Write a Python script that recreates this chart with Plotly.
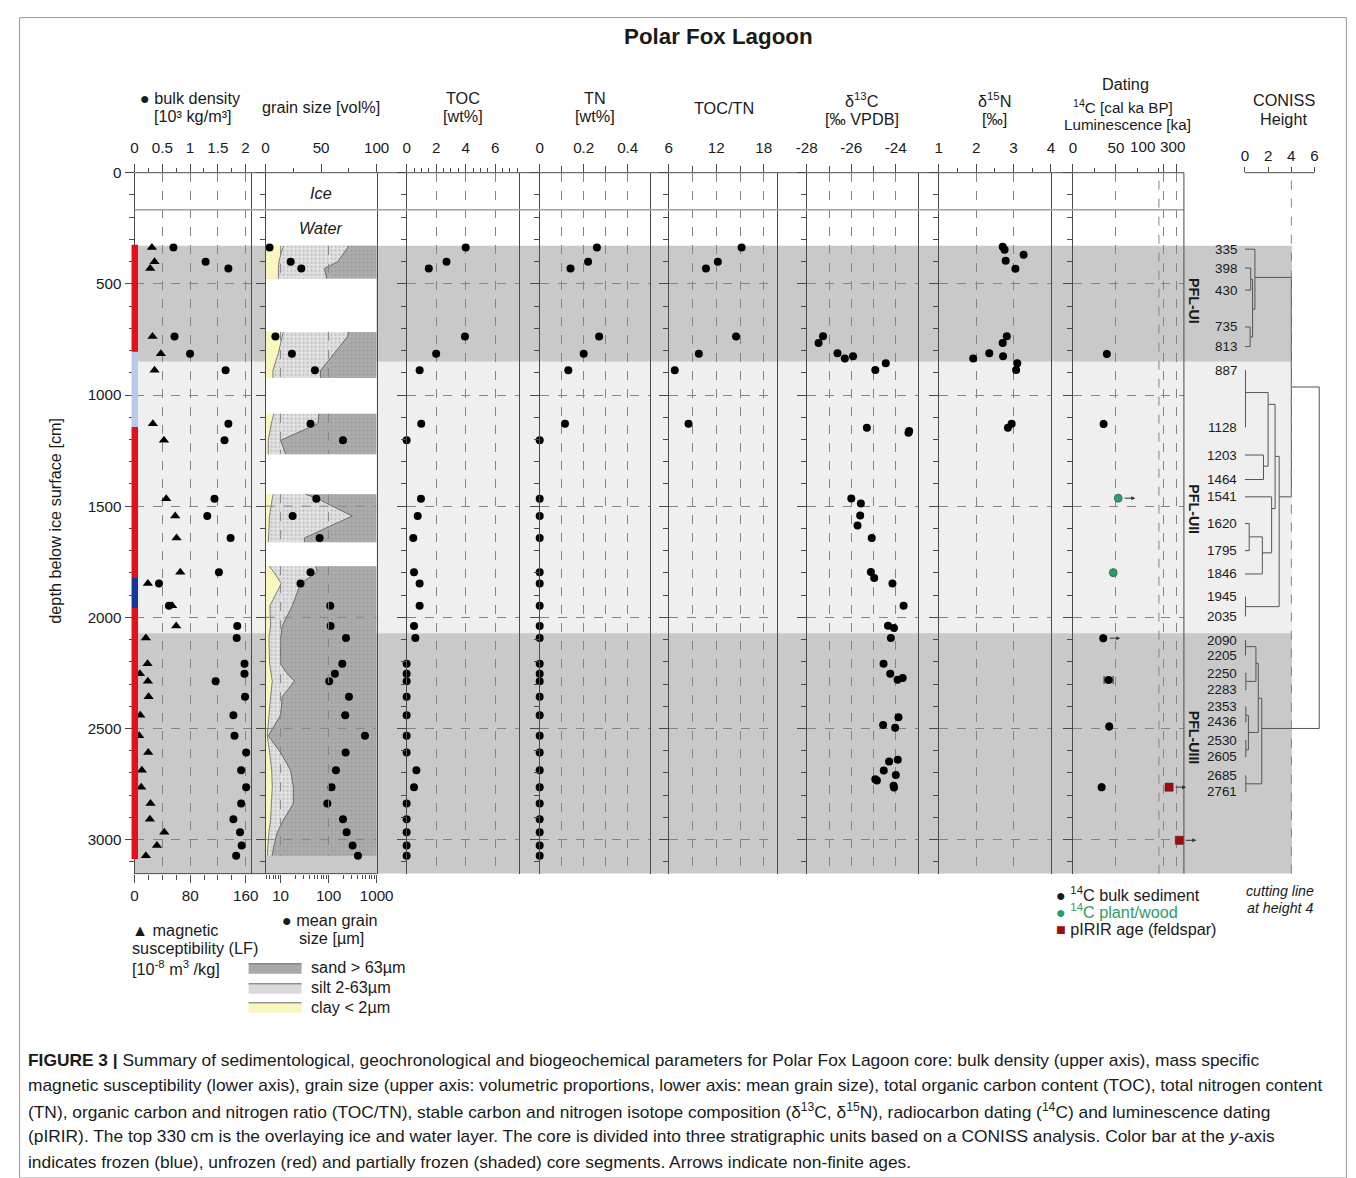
import plotly.graph_objects as go

# Mapping from reference-picture pixels to figure pixels (compensates the offset/scale
# observed between the written figure and its photograph).
OX, OY, SX, SY = 18.5, 16.5, 0.979, 0.991
W, H = 1356, 1172
def fx(p): return (p - OX) / SX / W
def fy(p): return 1 - (p - OY) / SY / H
FS = 1.015  # font compensation

FONT = "Liberation Sans, Arial, Helvetica, sans-serif"
INK = "#1a1a1a"
AX = "#4a4a4a"
GRID = "#858585"

# ---------------- data ----------------
depth = [336, 400, 431, 737, 814, 889, 1129, 1204, 1467, 1544, 1643, 1797, 1848, 1948, 2039,
         2093, 2209, 2254, 2287, 2357, 2440, 2533, 2608, 2688, 2764, 2837, 2908, 2967, 3026, 3072]
bulk_density = [0.70, 1.28, 1.69, 0.72, 1.00, 1.64, 1.69, 1.62, 1.44, 1.31, 1.73, 1.52, 0.44, 0.62, 1.85,
                1.84, 1.98, 1.98, 1.46, 1.99, 1.78, 1.80, 2.01, 1.92, 2.01, 1.92, 1.78, 1.90, 1.93, 1.83]
mag_sus = [25, 28.8, 22.6, 25.9, 37.9, 28.8, 26.4, 42.3, 45.6, 58.5, 60.5, 65.8, 19.2, 54.2, 60,
           16.3, 18.7, 7.7, 19.2, 20.2, 8.2, 6.7, 19.7, 10.5, 9.6, 23, 22.1, 42.8, 32.2, 16.3]
mean_grain = [5.9, 16.2, 27, 7.8, 17.2, 51.9, 42, 199, 55.4, 17.8, 65, 42, 26, 108, 110,
              230, 193, 135, 103, 265, 222, 571, 226, 142, 115, 94, 199, 237, 316, 408]
toc = [4.0, 2.7, 1.5, 3.95, 2.0, 0.88, 0.99, 0.0, 0.97, 0.75, 0.45, 0.5, 0.88, 0.88, 0.5,
       0.59, 0, 0, 0, 0, 0, 0, 0, 0.66, 0.5, 0, 0, 0, 0, 0]
tn = [0.26, 0.22, 0.14, 0.27, 0.20, 0.13, 0.115, 0, 0, 0, 0, 0, 0, 0, 0,
      0, 0, 0, 0, 0, 0, 0, 0, 0, 0, 0, 0, 0, 0, 0]
toc_tn = [15.2, 12.2, 10.7, 14.5, 9.8, 6.76, 8.5] + [None] * 23

d13c_depth = [736, 766, 812, 836, 826, 857, 887, 1147, 1162, 1170, 1465, 1488, 1542, 1587, 1643,
              1796, 1823, 1848, 1948, 2038, 2048, 2093, 2209, 2254, 2281, 2273, 2449, 2484, 2497,
              2641, 2649, 2689, 2709, 2728, 2734, 2758, 2765]
d13c = [-27.27, -27.47, -26.62, -26.29, -25.92, -24.45, -24.92, -25.3, -23.40, -23.43, -26.0, -25.57,
        -25.6, -25.72, -25.08, -25.12, -24.97, -24.15, -23.65, -24.35, -24.08, -24.22, -24.55, -24.25,
        -23.92, -23.69, -23.88, -24.57, -24.03, -23.91, -24.30, -24.54, -24.0, -24.92, -24.85, -24.10, -24.08]
d15n_depth = [333, 347, 369, 396, 432, 736, 766, 812, 826, 836, 857, 887, 1129, 1147]
d15n = [2.71, 2.76, 3.27, 2.79, 3.05, 2.82, 2.71, 2.35, 2.72, 1.92, 3.10, 3.07, 2.95, 2.85]

# grain size composition (vol%), segments separated by None
gs_depth = [329, 336, 400, 431, 476, None,
            716, 736, 814, 889, 923, None,
            1084, 1129, 1204, 1266, None,
            1446, 1467, 1544, 1643, 1662, None,
            1770, 1797, 1848, 1948, 2039, 2093, 2209, 2254, 2287, 2357, 2440, 2533, 2608, 2688,
            2764, 2837, 2908, 2967, 3026, 3072]
gs_clay = [15.8, 15.5, 12, 11.5, 11.5, None,
           15.9, 15, 11.4, 6.6, 6.6, None,
           7.5, 5.1, 2.4, 2.4, None,
           6.9, 6, 3.5, 2.5, 2.5, None,
           3.3, 7.5, 14.1, 3.9, 4.5, 3, 3.6, 5.1, 6, 4.5, 3.3, 1.5, 3.6, 5.5,
           6, 5.5, 4.5, 3, 2, 1.5]
gs_silt = [58.7, 58.5, 53, 41.5, 43.5, None,
           58.6, 59, 50.2, 42.9, 42.9, None,
           40.5, 41.9, 11.1, 15.6, None,
           29.1, 41, 74.5, 32.5, 32.5, None,
           41.7, 39, 17.4, 20.1, 10.5, 10.5, 9.9, 14.4, 20, 10.5, 10.2, 0.9, 9.9, 17,
           19, 19.5, 12, 7.5, 5.5, 4.5]

# dating
c14_bulk_depth = [815, 1130, 2094, 2282, 2491, 2764]
c14_bulk_age = [39.5, 35.7, 35.3, 41.5, 42.2, 33.4]
c14_bulk_err = [0.8, 1.0, 0.5, 5.2, 1.0, 1.0]
c14_bulk_finite = [True, True, False, True, True, True]
c14_plant_depth = [1464, 1799]
c14_plant_age = [52.7, 46.9]
c14_plant_err = [0.5, 0.8]
c14_plant_finite = [False, True]
pirir_depth = [2764, 3003]
pirir_age = [272, 312]
pirir_finite = [False, False]

# stratigraphic units & core state
unit_names = ["PFL-UI", "PFL-UII", "PFL-UIII"]
unit_top = [329, 850, 2072]
unit_bottom = [850, 2072, 3153]
unit_color = ["#c9c9c9", "#efefef", "#c9c9c9"]
unit_label_depth = [577, 1514, 2541]
ice_water_boundary = 167
state_top = [324, 806, 1144, 1823, 1958]
state_bottom = [806, 1144, 1823, 1958, 3087]
state_kind = ["unfrozen", "partial", "unfrozen", "frozen", "unfrozen"]
state_color = {"unfrozen": "#e3101c", "partial": "#b9c9ee", "frozen": "#14369a"}

# CONISS dendrogram (leaf / node positions in depth-axis units, heights in CONISS units)
leaf_label = ["335", "398", "430", "735", "813", "887", "1128", "1203", "1464", "1541", "1620", "1795",
              "1846", "1945", "2035", "2090", "2205", "2250", "2283", "2353", "2436", "2530", "2605",
              "2685", "2761"]
leaf_pos = [344, 429, 528, 694, 782, 889, 1144, 1270, 1380, 1458, 1578, 1700, 1805, 1908, 1995,
            2104, 2170, 2252, 2326, 2403, 2470, 2554, 2626, 2713, 2784]
merge_left = [1, 3, 25, 0, 5, 7, 29, 10, 32, 9, 31, 13, 35, 15, 17, 38, 19, 21, 41, 40, 23, 44, 28, 47]
merge_right = [2, 4, 26, 27, 6, 8, 30, 11, 12, 33, 34, 14, 36, 16, 18, 39, 20, 22, 42, 43, 24, 45, 37, 46]
merge_height = [0.5, 0.45, 0.66, 0.86, 0.05, 1.6, 2.0, 0.37, 1.5, 2.3, 2.6, 0.05, 2.95, 0.05, 0.08,
                0.95, 0.08, 0.08, 0.3, 1.15, 0.08, 1.45, 4.0, 6.4]
merge_pos = [480, 739, 614, 471, 989, 1320, 1042, 1638, 1710, 1511, 1276, 1952, 1458, 2132, 2288,
             2207, 2441, 2596, 2518, 2364, 2749, 2500, 964, 1732]
cutting_height = 4

# ---------------- figure ----------------
fig = go.Figure()
Y0, Y1 = 172, 872
ydom = [fy(Y1), fy(Y0)]
DR = [3153, 0]

segs = []
cur = []
for d, c, s in zip(gs_depth, gs_clay, gs_silt):
    if d is None:
        segs.append(cur); cur = []
    else:
        cur.append((d, c, s))
segs.append(cur)
for seg in segs:
    dd = [r[0] for r in seg]
    clay = [r[1] for r in seg]
    cs = [r[1] + r[2] for r in seg]
    full = [r[1] + r[2] + (100 - r[1] - r[2]) for r in seg]
    fig.add_trace(go.Scatter(x=clay, y=dd, mode="lines", fill="tozerox", fillcolor="#fbf5bf",
                             line=dict(color="#666", width=0.8), xaxis="x2", yaxis="y2",
                             hoverinfo="skip", showlegend=False))
    fig.add_trace(go.Scatter(x=cs, y=dd, mode="lines", fill="tonextx", fillcolor="#dadada",
                             line=dict(color="#555", width=0.8), xaxis="x2", yaxis="y2",
                             hoverinfo="skip", showlegend=False,
                             fillpattern=dict(shape=".", size=4, solidity=0.25, fgcolor="#9a9a9a", bgcolor="#e2e2e2")))
    fig.add_trace(go.Scatter(x=full, y=dd, mode="lines", fill="tonextx", fillcolor="#a9a9a9",
                             line=dict(color="rgba(0,0,0,0)", width=0), xaxis="x2", yaxis="y2",
                             hoverinfo="skip", showlegend=False,
                             fillpattern=dict(shape=".", size=4, solidity=0.25, fgcolor="#8a8a8a", bgcolor="#adadad")))

def pts(x, y, xa, ya, symbol="circle", size=8, color="black"):
    fig.add_trace(go.Scatter(x=x, y=y, mode="markers", xaxis=xa, yaxis=ya, cliponaxis=False,
                             marker=dict(symbol=symbol, size=size, color=color), showlegend=False,
                             hoverinfo="x+y"))

pts(bulk_density, depth, "x", "y")
pts(mag_sus, depth, "x10", "y", symbol="triangle-up", size=9)
pts(mean_grain, depth, "x11", "y2")
pts(toc, depth, "x3", "y3")
pts(tn, depth, "x4", "y4")
pts(toc_tn, depth, "x5", "y5")
pts(d13c, d13c_depth, "x6", "y6")
pts(d15n, d15n_depth, "x7", "y7")

fig.add_trace(go.Scatter(x=c14_bulk_age, y=c14_bulk_depth, mode="markers", xaxis="x8", yaxis="y8",
                         cliponaxis=False, marker=dict(color="black", size=8),
                         error_x=dict(type="data", array=c14_bulk_err, color="#222", thickness=1, width=4),
                         showlegend=False))
fig.add_trace(go.Scatter(x=c14_plant_age, y=c14_plant_depth, mode="markers", xaxis="x8", yaxis="y8",
                         cliponaxis=False, marker=dict(color="#2e9b6b", size=8, line=dict(color="#1d5c40", width=0.6)),
                         error_x=dict(type="data", array=c14_plant_err, color="#222", thickness=1, width=4),
                         showlegend=False))
fig.add_trace(go.Scatter(x=pirir_age, y=pirir_depth, mode="markers", xaxis="x12", yaxis="y8",
                         cliponaxis=False, marker=dict(color="#a00d0d", size=8, symbol="square",
                                                       line=dict(color="#500", width=0.6)),
                         showlegend=False))

# dendrogram
node_y = list(leaf_pos)
node_h = [0.0] * len(leaf_pos)
dx, dy = [], []
for l, r, h, p in zip(merge_left, merge_right, merge_height, merge_pos):
    for c in (l, r):
        dx += [node_h[c], h, None]
        dy += [node_y[c], node_y[c], None]
    dx += [h, h, None]
    dy += [node_y[l], node_y[r], None]
    node_y.append(p)
    node_h.append(h)
fig.add_trace(go.Scatter(x=dx, y=dy, mode="lines", xaxis="x9", yaxis="y9", cliponaxis=False,
                         line=dict(color="#555", width=1), hoverinfo="skip", showlegend=False))

# ---------------- axes ----------------
TF = dict(size=15 * FS, color=INK, family=FONT)

def xtop(dom, rng, major, labels, minor, grid=True, anchor="y", minor_grid=False, show_labels=True):
    return dict(domain=[fx(dom[0]), fx(dom[1])], range=rng, side="top", anchor=anchor,
                tickmode="array", tickvals=major, ticktext=labels, ticks="outside", ticklen=8,
                tickwidth=1, tickcolor=AX, showline=False, showgrid=grid, gridcolor=GRID,
                griddash="dash", gridwidth=1, zeroline=False, tickfont=TF, ticklabelstandoff=5,
                showticklabels=show_labels,
                minor=dict(tickvals=minor, ticks="outside", ticklen=4 if not minor_grid else 6,
                           tickcolor=AX, showgrid=minor_grid, gridcolor=GRID, griddash="dash", gridwidth=1))

def yax(anchor, labels=False, mirror=True, grid=True):
    return dict(domain=ydom, range=DR, anchor=anchor, showline=True, linecolor=AX, linewidth=1,
                mirror=mirror, ticks="outside", ticklen=9, tickcolor=AX, tickmode="linear", tick0=0,
                dtick=500, minor=dict(dtick=100, tick0=0, ticks="outside", ticklen=5, tickcolor=AX,
                                      showgrid=False),
                showgrid=grid, gridcolor=GRID, griddash="dash", gridwidth=1, zeroline=False,
                showticklabels=labels, tickfont=TF)

def rng_list(a, b, s):
    out = []
    v = a
    while v <= b + 1e-9:
        out.append(round(v, 4)); v += s
    return out

layout = dict(
    width=W, height=H, autosize=False, margin=dict(l=0, r=0, t=0, b=0),
    paper_bgcolor="white", plot_bgcolor="rgba(0,0,0,0)", font=dict(family=FONT, color=INK),
    showlegend=False,
    xaxis=xtop((134, 250), [0, 2.09], [0, 0.5, 1, 1.5, 2], ["0", "0.5", "1", "1.5", "2"],
               [0.25, 0.75, 1.25, 1.75], anchor="y"),
    xaxis2=xtop((265, 376), [0, 100], [0, 50, 100], ["0", "50", "100"], [25, 75], grid=False, anchor="y2"),
    xaxis3=xtop((406, 518), [0, 7.59], [0, 2, 4, 6], ["0", "2", "4", "6"],
                [v for v in rng_list(0.5, 7.5, 0.5) if v not in (2, 4, 6)], anchor="y3"),
    xaxis4=xtop((539, 649), [0, 0.5], [0, 0.2, 0.4], ["0", "0.2", "0.4"], [0.1, 0.3],
                anchor="y4", minor_grid=True),
    xaxis5=xtop((668, 776), [6, 19.64], [6, 12, 18], ["6", "12", "18"], [9, 15],
                anchor="y5", minor_grid=True),
    xaxis6=xtop((806, 917), [-28, -23.01], [-28, -26, -24], ["-28", "-26", "-24"], [-27, -25],
                anchor="y6", minor_grid=True),
    xaxis7=xtop((938, 1050), [1, 4], [1, 2, 3, 4], ["1", "2", "3", "4"], [1.5, 2.5, 3.5], anchor="y7"),
    xaxis8=xtop((1072, 1160), [0, 102.3], [0, 50], ["0", "50"], [25, 75, 100], anchor="y8"),
    xaxis12=xtop((1160, 1183), [240, 330], [250, 300], ["250", "300"], [], anchor="y8", show_labels=False),
    xaxis9=dict(domain=[fx(1240.5), fx(1320)], range=[-0.3, 6.55], side="top", anchor="y9",
                tickmode="array", tickvals=[0, 2, 4, 6], ticks="outside", ticklen=5, tickcolor=AX,
                showline=False, showgrid=False, zeroline=False, tickfont=TF),
    xaxis10=dict(overlaying="x", side="bottom", anchor="y", range=[0, 167], tickmode="array",
                 tickvals=[0, 80, 160], ticktext=["0", "80", "160"], ticks="outside",
                 ticklen=8, tickcolor=AX, showline=False, showgrid=False, zeroline=False, tickfont=TF,
                 minor=dict(tickvals=[20, 40, 60, 100, 120, 140], ticks="outside", ticklen=5, tickcolor=AX)),
    xaxis11=dict(overlaying="x2", side="bottom", anchor="y2", type="log", range=[0.6875, 3],
                 tickmode="array", tickvals=[10, 100, 1000], ticktext=["10", "100", "1000"],
                 ticks="outside", ticklen=8, tickcolor=AX, showline=False, showgrid=False,
                 zeroline=False, tickfont=TF,
                 minor=dict(tickvals=[5, 6, 7, 8, 9, 20, 30, 40, 50, 60, 70, 80, 90,
                                      200, 300, 400, 500, 600, 700, 800, 900],
                            ticks="outside", ticklen=4, tickcolor=AX)),
    yaxis=yax("x", labels=True),
    yaxis2=dict(yax("x2", grid=False), matches="y"),
    yaxis3=dict(yax("x3"), matches="y"),
    yaxis4=dict(yax("x4"), matches="y"),
    yaxis5=dict(yax("x5"), matches="y"),
    yaxis6=dict(yax("x6"), matches="y"),
    yaxis7=dict(yax("x7"), matches="y"),
    yaxis8=dict(yax("x8", mirror=False), matches="y"),
    yaxis9=dict(domain=ydom, range=DR, anchor="x9", visible=False, matches="y"),
)
fig.update_layout(**layout)

# ---------------- shapes ----------------
shapes = []
for t, b, c in zip(unit_top, unit_bottom, unit_color):
    shapes.append(dict(type="rect", xref="paper", yref="y", x0=fx(134), x1=fx(1291), y0=t, y1=b,
                       fillcolor=c, line=dict(width=0), layer="below"))
for a, b in zip(segs[:-1], segs[1:]):
    shapes.append(dict(type="rect", xref="x2", yref="y2", x0=0, x1=100, y0=a[-1][0], y1=b[0][0],
                       fillcolor="white", line=dict(width=0), layer="below"))
for seg in segs:
    d0, d1 = seg[0][0], seg[-1][0]
    for gv in (10, 100):
        shapes.append(dict(type="line", xref="x11", yref="y2", x0=gv, x1=gv, y0=d0, y1=d1,
                           line=dict(color=GRID, width=1, dash="dash"), layer="above"))
    for hv in range(500, 3001, 500):
        if d0 < hv < d1:
            shapes.append(dict(type="line", xref="x2", yref="y2", x0=0, x1=100, y0=hv, y1=hv,
                               line=dict(color=GRID, width=1, dash="dash"), layer="above"))
shapes.append(dict(type="line", xref="x8", yref="y8 domain", x0=100, x1=100, y0=0, y1=1,
                   line=dict(color=GRID, width=1, dash="dash"), layer="below"))
shapes.append(dict(type="line", xref="paper", yref="y", x0=fx(134), x1=fx(1183),
                   y0=ice_water_boundary, y1=ice_water_boundary, line=dict(color="#a0a0a0", width=1.5)))
shapes.append(dict(type="line", xref="paper", yref="paper", x0=fx(134), x1=fx(1183), y0=fy(Y0), y1=fy(Y0),
                   line=dict(color=AX, width=1)))
shapes.append(dict(type="line", xref="paper", yref="paper", x0=fx(134), x1=fx(376), y0=fy(Y1), y1=fy(Y1),
                   line=dict(color=AX, width=1)))
shapes.append(dict(type="line", xref="x12 domain", yref="paper", x0=1, x1=1, y0=fy(Y1), y1=fy(Y0),
                   line=dict(color=AX, width=1)))
shapes.append(dict(type="line", xref="x9", yref="paper", x0=0, x1=6, y0=fy(Y0), y1=fy(Y0),
                   line=dict(color=AX, width=1)))
shapes.append(dict(type="line", xref="x9", yref="paper", x0=cutting_height, x1=cutting_height,
                   y0=fy(Y1), y1=fy(Y0), line=dict(color=GRID, width=1, dash="dash")))
for t, b, k in zip(state_top, state_bottom, state_kind):
    shapes.append(dict(type="rect", xref="paper", yref="y", x0=fx(131), x1=fx(137.5), y0=t, y1=b,
                       fillcolor=state_color[k], line=dict(width=0), layer="above"))
for (y0, y1, c) in [(962, 972, "#a9a9a9"), (982, 992, "#dadada"), (1001, 1011, "#fbf5bf")]:
    shapes.append(dict(type="rect", xref="paper", yref="paper", x0=fx(248), x1=fx(301), y0=fy(y1), y1=fy(y0),
                       fillcolor=c, line=dict(width=0)))
    shapes.append(dict(type="line", xref="paper", yref="paper", x0=fx(248), x1=fx(301), y0=fy(y0), y1=fy(y0),
                       line=dict(color="#666", width=1)))
shapes.append(dict(type="rect", xref="paper", yref="paper", x0=0.6 / W, x1=1 - 0.6 / W,
                   y0=max(fy(1176), 0.6 / H), y1=1 - 0.6 / H,
                   line=dict(color="#9a9a9a", width=1), fillcolor="rgba(0,0,0,0)"))
fig.update_layout(shapes=shapes)

# ---------------- annotations ----------------
ann = []
def txt(x, y, s, size=16, xanchor="center", color=INK, **kw):
    ann.append(dict(x=fx(x), y=fy(y), xref="paper", yref="paper", text=s, showarrow=False,
                    xanchor=xanchor, yanchor="middle",
                    font=dict(size=size * FS, color=color, family=FONT), **kw))

txt(718, 36, "<b>Polar Fox Lagoon</b>", size=22)
txt(190, 97, "● bulk density")
txt(192, 115, "[10³ kg/m³]")
txt(320, 106, "grain size [vol%]")
txt(462, 97, "TOC"); txt(462, 115, "[wt%]")
txt(594, 97, "TN"); txt(594, 115, "[wt%]")
txt(723, 107, "TOC/TN")
txt(861, 99, "δ<sup>13</sup>C"); txt(861, 118, "[‰ VPDB]")
txt(994, 99, "δ<sup>15</sup>N"); txt(994, 118, "[‰]")
txt(1125, 83, "Dating")
txt(1122, 106, "<sup>14</sup>C [cal ka BP]", size=15)
txt(1127, 124, "Luminescence [ka]", size=15)
txt(1283, 99, "CONISS"); txt(1283, 118, "Height")
txt(55, 520, "depth below ice surface [cm]", textangle=-90)
txt(1142, 146, "100", size=15)
txt(1172, 146, "300", size=15)

# dendrogram leaf labels
for lab, pos in zip(leaf_label, leaf_pos):
    ann.append(dict(x=0, y=pos, xref="x9", yref="y9", text=lab, showarrow=False, xanchor="right",
                    yanchor="middle", xshift=-6, font=dict(size=13.2 * FS, color=INK, family=FONT)))

ann.append(dict(x=50, y=90, xref="x2", yref="y2", text="<i>Ice</i>", showarrow=False,
                font=dict(size=16 * FS, color=INK, family=FONT)))
ann.append(dict(x=50, y=248, xref="x2", yref="y2", text="<i>Water</i>", showarrow=False,
                font=dict(size=16 * FS, color=INK, family=FONT)))

for name, d in zip(unit_names, unit_label_depth):
    ann.append(dict(x=fx(1193), y=d, xref="paper", yref="y", text="<b>" + name + "</b>", showarrow=False,
                    textangle=90, xanchor="center", yanchor="middle",
                    font=dict(size=14 * FS, color=INK, family=FONT)))

def arrows(ages, depths, fin, xa):
    for a, d, f in zip(ages, depths, fin):
        if not f:
            ann.append(dict(x=a, y=d, xref=xa, yref="y8", text="", showarrow=True, ax=-12, ay=0,
                            xshift=17, arrowhead=2, arrowsize=0.8, arrowwidth=1, arrowcolor="#333"))
arrows(c14_bulk_age, c14_bulk_depth, c14_bulk_finite, "x8")
arrows(c14_plant_age, c14_plant_depth, c14_plant_finite, "x8")
arrows(pirir_age, pirir_depth, pirir_finite, "x12")

txt(129, 928, "▲ magnetic", xanchor="left")
txt(129, 946, "susceptibility (LF)", xanchor="left")
txt(129, 966, "[10<sup>-8</sup> m<sup>3</sup> /kg]", xanchor="left")
txt(279, 918, "● mean grain", xanchor="left")
txt(296, 936, "size [µm]", xanchor="left")
txt(308, 965, "sand > 63µm", xanchor="left")
txt(308, 985, "silt 2-63µm", xanchor="left")
txt(308, 1005, "clay < 2µm", xanchor="left")

txt(1053, 892, "● <sup>14</sup>C bulk sediment", xanchor="left")
txt(1053, 909, "<span style='color:#2e9b6b'>● <sup>14</sup>C plant/wood</span>", xanchor="left")
txt(1053, 927, "<span style='color:#a00d0d'>■</span> pIRIR age (feldspar)", xanchor="left")
txt(1279, 889, "<i>cutting line</i>", size=14)
txt(1279, 906, "<i>at height 4</i>", size=14)

cap = [
    "<b>FIGURE 3 |</b> Summary of sedimentological, geochronological and biogeochemical parameters for Polar Fox Lagoon core: bulk density (upper axis), mass specific",
    "magnetic susceptibility (lower axis), grain size (upper axis: volumetric proportions, lower axis: mean grain size), total organic carbon content (TOC), total nitrogen content",
    "(TN), organic carbon and nitrogen ratio (TOC/TN), stable carbon and nitrogen isotope composition (δ<sup>13</sup>C, δ<sup>15</sup>N), radiocarbon dating (<sup>14</sup>C) and luminescence dating",
    "(pIRIR). The top 330 cm is the overlaying ice and water layer. The core is divided into three stratigraphic units based on a CONISS analysis. Color bar at the <i>y</i>-axis",
    "indicates frozen (blue), unfrozen (red) and partially frozen (shaded) core segments. Arrows indicate non-finite ages.",
]
for i, line in enumerate(cap):
    txt(25, 1058 + i * 25.5, line, size=17.1, xanchor="left")

fig.update_layout(annotations=ann)
fig.write_html("out.html")
